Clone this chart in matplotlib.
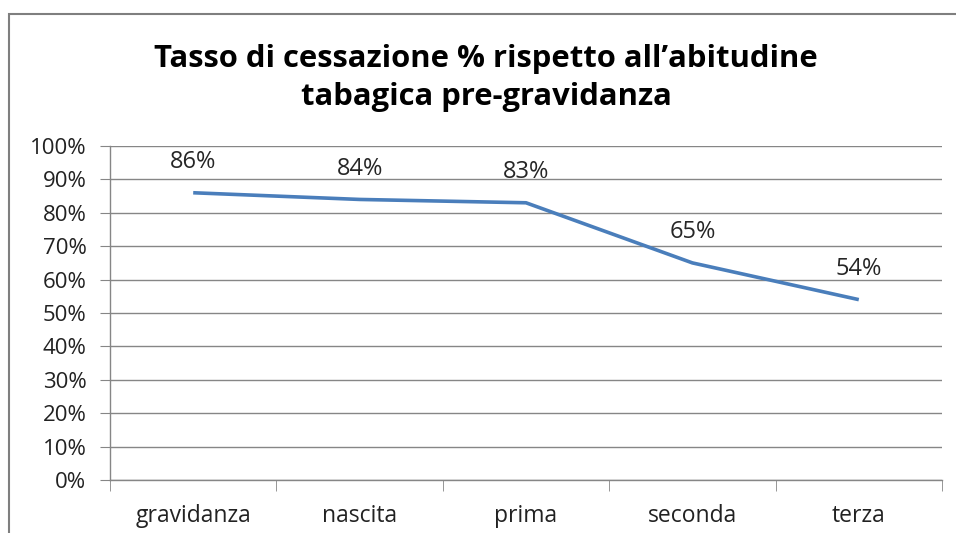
import matplotlib
matplotlib.use('Agg')
import matplotlib.pyplot as plt
from matplotlib.patches import Rectangle
from matplotlib.ticker import PercentFormatter

# ── Data ──────────────────────────────────────────────────────
categories = ['gravidanza', 'nascita', 'prima', 'seconda', 'terza']
cessation_pct = [86, 84, 83, 65, 54]
y_ticks = list(range(0, 101, 10))

TITLE = "Tasso di cessazione % rispetto all\u2019abitudine\ntabagica pre-gravidanza"
LINE_COLOR = '#4a7ebb'
GRID_COLOR = '#868686'

plt.rcParams['font.family'] = ['Open Sans', 'DejaVu Sans']

W, H = 956, 533
fig = plt.figure(figsize=(W / 100, H / 100), dpi=100)
fig.patch.set_facecolor('white')

# outer chart frame (runs off the right/bottom edge like the screenshot)
fig.add_artist(Rectangle((9 / W, -0.05), 1.2, 1 - 14 / H + 0.05,
                         transform=fig.transFigure, fill=False,
                         edgecolor='#7f7f7f', linewidth=1.5))

# plot area in pixel coords: x 110..942, y 146..480
ax = fig.add_axes([110 / W, 1 - 480 / H, (942 - 110) / W, (480 - 146) / H])

x = list(range(len(categories)))
ax.plot(x, cessation_pct, color=LINE_COLOR, linewidth=2.6,
        solid_capstyle='butt', zorder=3)
for xi, v in zip(x, cessation_pct):
    ax.annotate(f"{v}%", (xi, v), xytext=(0, 22), textcoords='offset points',
                ha='center', va='center', fontsize=17, color='#262626')

ax.set_xlim(-0.5, len(categories) - 0.5)
ax.set_ylim(0, 100)
ax.set_yticks(y_ticks)
ax.yaxis.set_major_formatter(PercentFormatter(decimals=0))
ax.set_xticks(x)
ax.set_xticklabels(categories)
ax.set_xticks([i - 0.5 for i in range(len(categories) + 1)], minor=True)

ax.grid(axis='y', color=GRID_COLOR, linewidth=1.0)
ax.set_axisbelow(True)
for side in ('top', 'right'):
    ax.spines[side].set_visible(False)
for side in ('left', 'bottom'):
    ax.spines[side].set_color(GRID_COLOR)
    ax.spines[side].set_linewidth(1.0)

ax.tick_params(axis='y', length=7, color=GRID_COLOR, labelsize=16,
               labelcolor='#222222', pad=10)
ax.tick_params(axis='x', which='major', length=0, labelsize=16.5,
               labelcolor='#222222', pad=17)
ax.tick_params(axis='x', which='minor', length=8, color=GRID_COLOR)

fig.text(486 / W, 1 - 78 / H, TITLE, ha='center', va='center',
         fontsize=22.3, fontweight='bold', color='black', linespacing=1.32)

fig.savefig('out.png', dpi=100, facecolor='white')
